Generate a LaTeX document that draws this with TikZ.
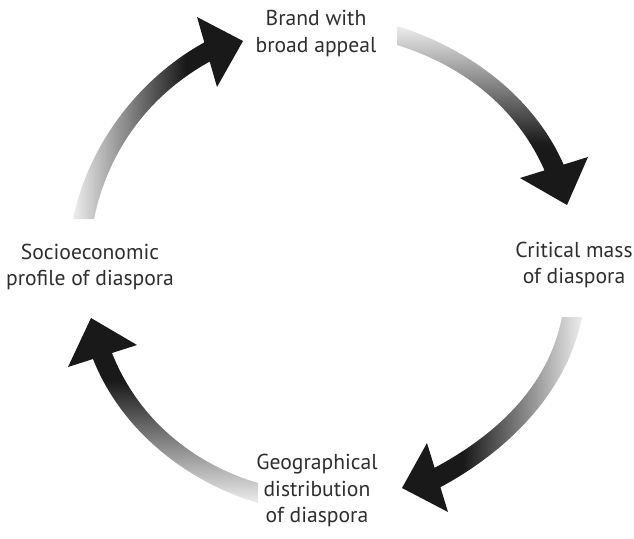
\documentclass[tikz,border=0pt]{standalone}
\usepackage{fontspec}
\setmainfont{PT Sans}
\pgfdeclarehorizontalshading{arrowfade}{100bp}{color(0bp)=(black!7); color(25bp)=(black!7); color(58bp)=(black!90); color(100bp)=(black!90)}
\tikzset{every picture/.style={line width=0.75pt}}
\tikzset{cyclelabel/.style={align=center, inner sep=0pt, text=black!82, font=\fontsize{16.2}{19.9}\selectfont}}

\begin{document}
\begin{tikzpicture}[x=0.75pt,y=0.75pt,yscale=-1,xscale=1]
	\useasboundingbox (0,0) rectangle (634,538);

	%Curved Arrow [left -> top]
	\shade [shading=arrowfade, shading angle=0] (73,219) .. controls (88,145.4) and (138.5,78.7) .. (204.3,42.4) -- (197,17) -- (243,41) -- (217,87) -- (209.7,61.6) .. controls (148.9,95.1) and (107.8,151.2) .. (94,219) -- cycle ;
	%Curved Arrow [top -> right]
	\shade [shading=arrowfade, shading angle=-90] (397,26) .. controls (467.1,47.7) and (533.3,95.6) .. (563.6,164.6) -- (588,157) -- (567,205) -- (520,178) -- (544.5,170.4) .. controls (516.5,106.7) and (461.6,65) .. (397,45) -- cycle ;
	%Curved Arrow [right -> bottom]
	\shade [shading=arrowfade, shading angle=180] (582,317) .. controls (566.8,393.8) and (505.7,452.2) .. (440.4,487.2) -- (448,512) -- (402,488) -- (427,443) -- (434.6,467.8) .. controls (494.7,435.6) and (548,387.9) .. (562,317) -- cycle ;
	%Curved Arrow [bottom -> left]
	\shade [shading=arrowfade, shading angle=90] (258,503) .. controls (186,481.5) and (121.1,430) .. (93,359) -- (68,367) -- (91,318) -- (137,345) -- (112,353) .. controls (137.9,418.4) and (192,463.3) .. (258,483) -- cycle ;

	% Text Node
	\draw (316,33.5) node (brand) [cyclelabel] {Brand with\\broad appeal};
	% Text Node
	\draw (574,265) node (mass) [cyclelabel] {Critical mass\\of diaspora};
	% Text Node
	\draw (317,490.5) node (geo) [cyclelabel] {Geographical\\distribution\\of diaspora};
	% Text Node
	\draw (90,267) node (socio) [cyclelabel] {Socioeconomic\\profile of diaspora};

\end{tikzpicture}
\end{document}
